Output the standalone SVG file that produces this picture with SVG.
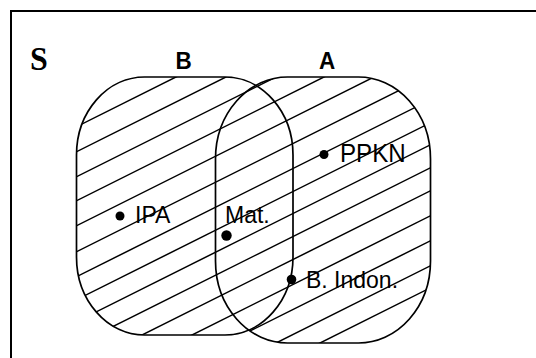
<svg xmlns="http://www.w3.org/2000/svg" width="536" height="358" viewBox="0 0 536 358">
<style>
.frame{fill:none;stroke:#000;stroke-width:2}
.set{fill:none;stroke:#000;stroke-width:1.7}
.hatch line{stroke:#000;stroke-width:1.5}
.lbl{font-family:"Liberation Sans",Arial,sans-serif;font-size:23px;fill:#000}
.setlbl{font-family:"Liberation Sans",Arial,sans-serif;font-size:22.5px;font-weight:bold;fill:#000}
.univ{font-family:"Liberation Serif","Times New Roman",serif;font-size:32px;font-weight:bold;fill:#000}
</style>
<defs>
<clipPath id="union">
<rect x="76.5" y="77" width="216.5" height="258" rx="68" ry="78"/>
<rect x="215.5" y="77" width="215" height="266" rx="72" ry="82"/>
</clipPath>
</defs>
<g id="frame">
<path class="frame" d="M11,358 V11 H536"/>
<text class="univ" transform="translate(30,70) scale(1,1.08)">S</text>
</g>
<g id="hatch" class="hatch" clip-path="url(#union)">
<line x1="60" y1="135" x2="450" y2="-60"/>
<line x1="60" y1="160" x2="450" y2="-35"/>
<line x1="60" y1="185" x2="450" y2="-10"/>
<line x1="60" y1="209" x2="450" y2="14"/>
<line x1="60" y1="234" x2="450" y2="39"/>
<line x1="60" y1="260" x2="450" y2="65"/>
<line x1="60" y1="285" x2="450" y2="90"/>
<line x1="60" y1="308" x2="450" y2="113"/>
<line x1="60" y1="330" x2="450" y2="135"/>
<line x1="60" y1="353" x2="450" y2="158"/>
<line x1="60" y1="376" x2="450" y2="181"/>
<line x1="60" y1="401" x2="450" y2="206"/>
<line x1="60" y1="426" x2="450" y2="231"/>
<line x1="60" y1="451" x2="450" y2="256"/>
<line x1="60" y1="473" x2="450" y2="278"/>
</g>
<g id="setB">
<rect class="set" x="76.5" y="77" width="216.5" height="258" rx="68" ry="78"/>
<text class="setlbl" transform="translate(175.5,68.5) scale(1,1.05)">B</text>
</g>
<g id="setA">
<rect class="set" x="215.5" y="77" width="215" height="266" rx="72" ry="82"/>
<text class="setlbl" transform="translate(319,68.5) scale(1,1.05)">A</text>
</g>
<g id="ipa">
<circle cx="120" cy="216" r="4.5"/>
<text class="lbl" transform="translate(135,223) scale(1,1.06)">IPA</text>
</g>
<g id="mat">
<circle cx="226.5" cy="235.5" r="5.2"/>
<text class="lbl" transform="translate(225,223) scale(1,1.06)">Mat.</text>
</g>
<g id="ppkn">
<circle cx="324" cy="154.5" r="4.5"/>
<text class="lbl" transform="translate(340,162) scale(1.05,1.1)">PPKN</text>
</g>
<g id="bindon">
<circle cx="291.5" cy="279.5" r="4.8"/>
<text class="lbl" transform="translate(306,287.5) scale(1,1.06)">B. Indon.</text>
</g>
</svg>
